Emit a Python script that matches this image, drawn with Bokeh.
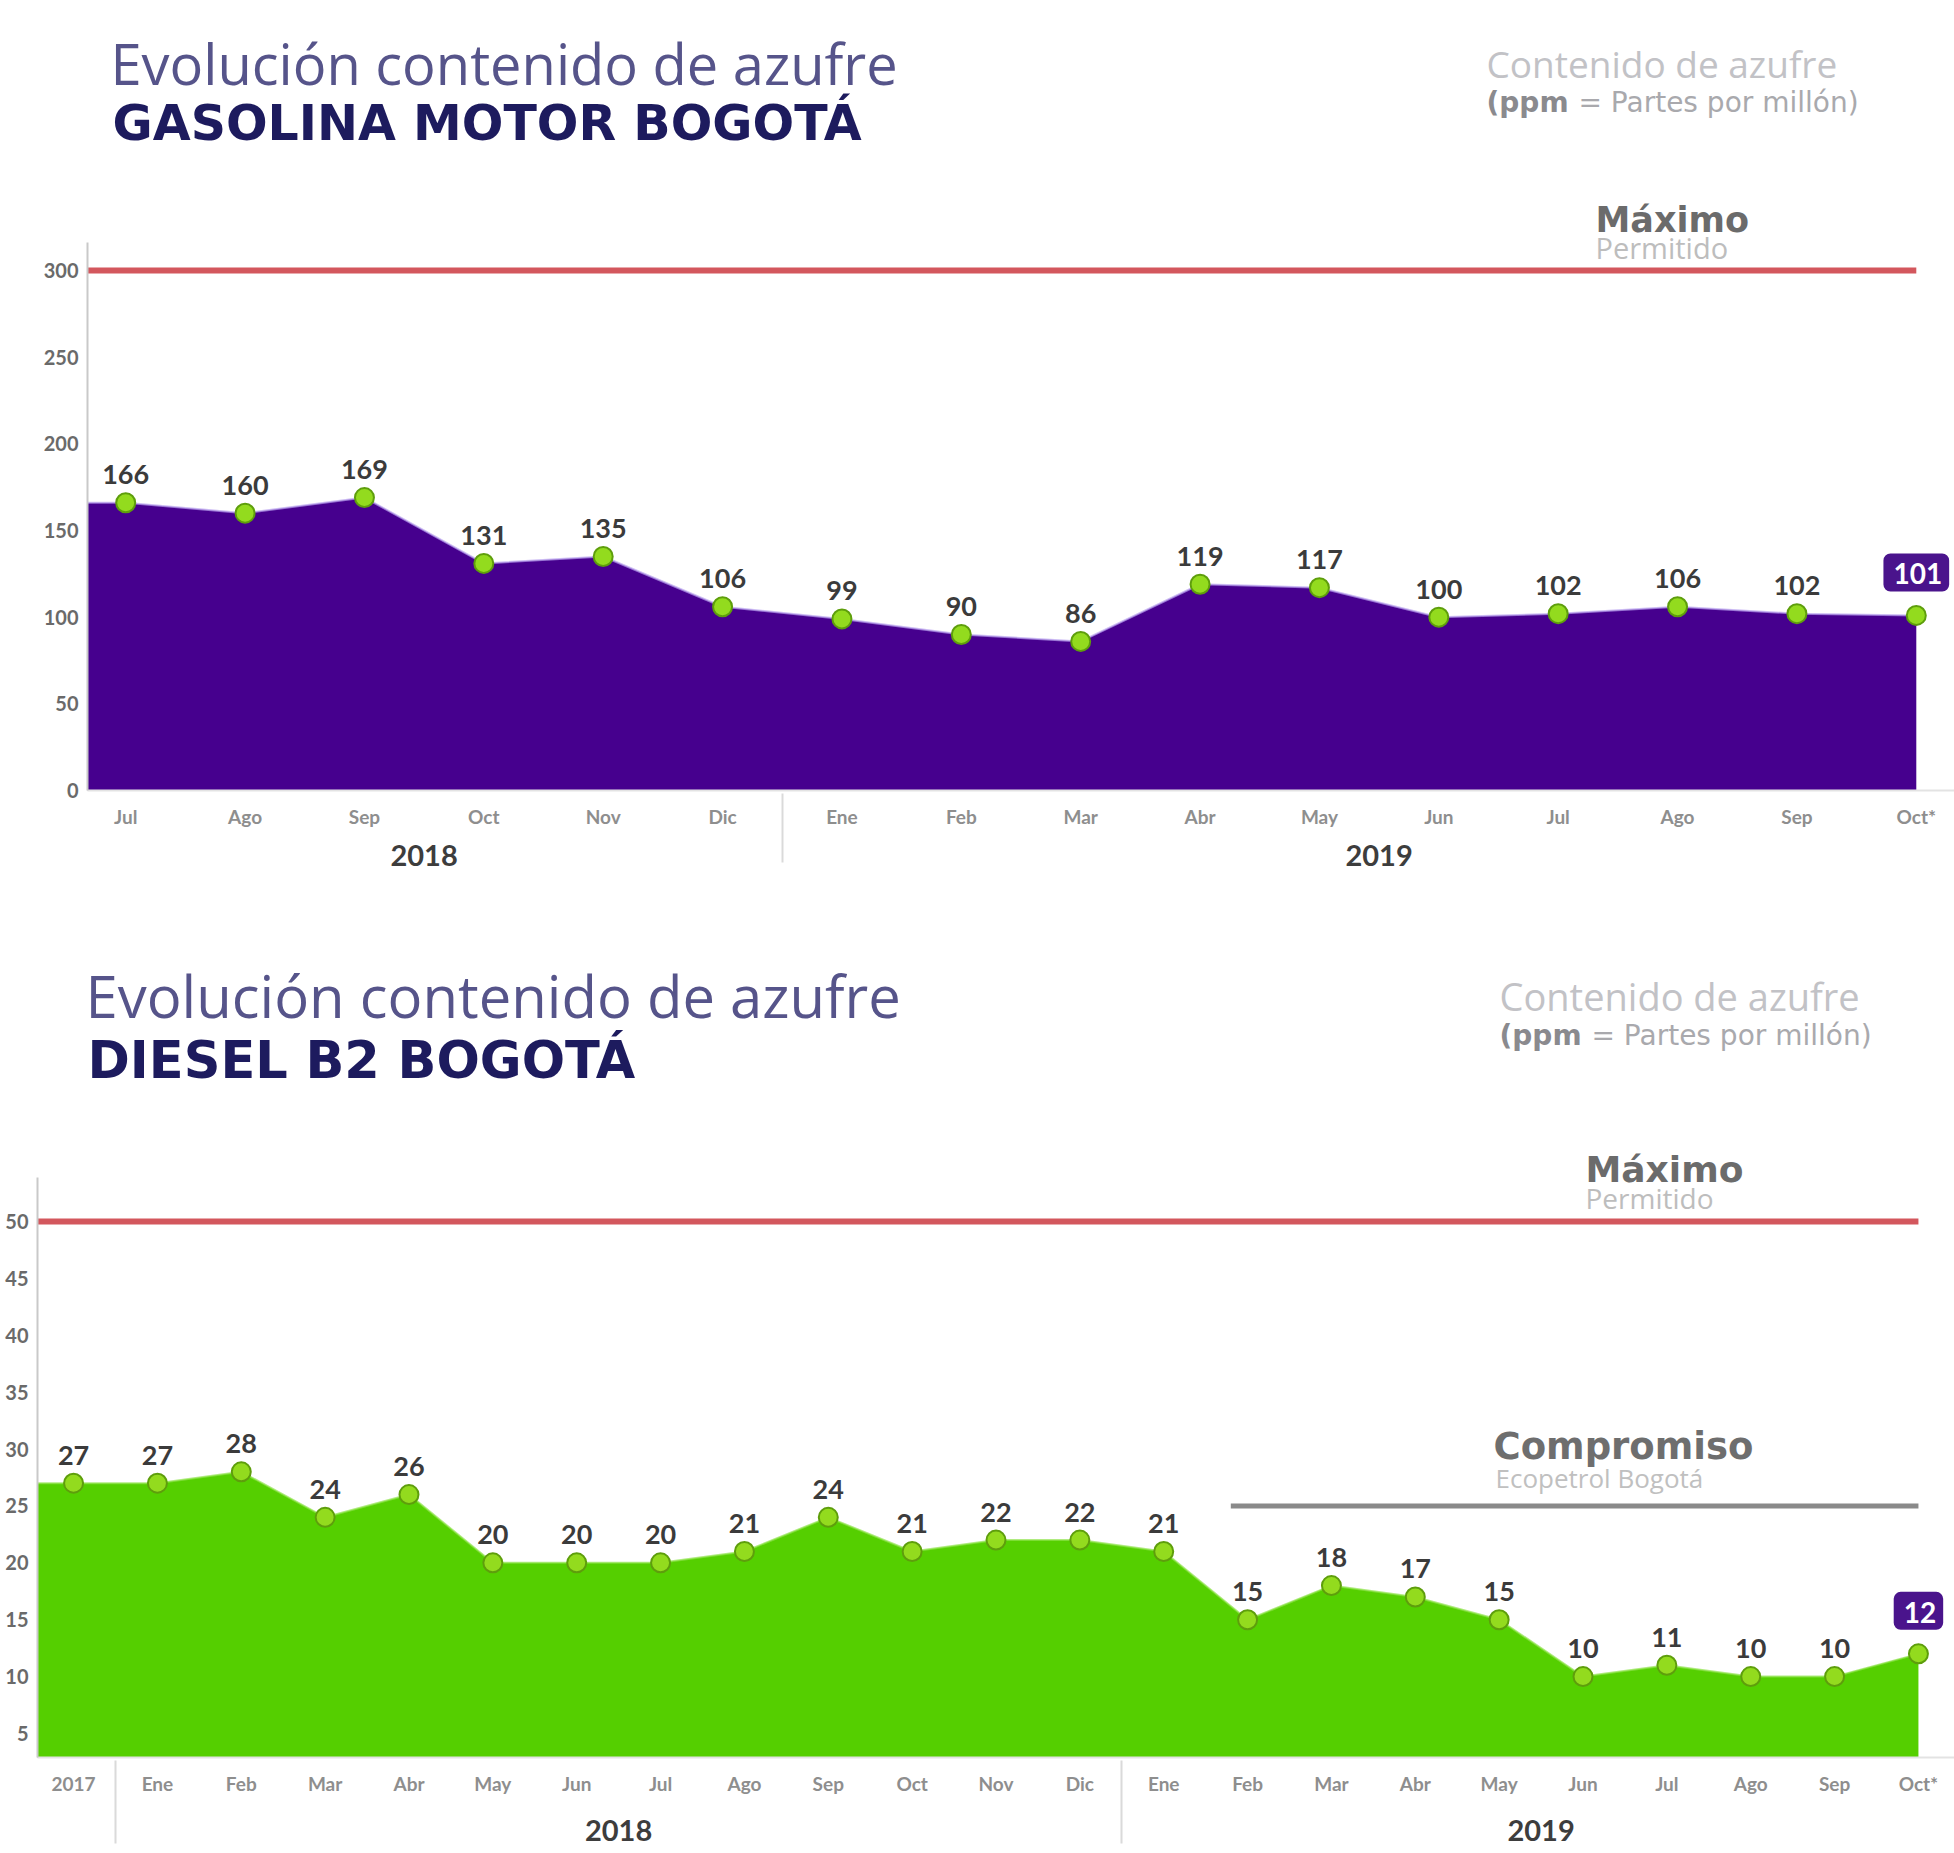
from bokeh.plotting import figure
from bokeh.models import FactorRange, Range1d, Label, FixedTicker
from bokeh.core.properties import value
from bokeh.embed import file_html
from bokeh.resources import INLINE

# ---------------- data ----------------
gas_years = ["2018"] * 6 + ["2019"] * 10
gas_months = ["Jul", "Ago", "Sep", "Oct", "Nov", "Dic",
              "Ene", "Feb", "Mar", "Abr", "May", "Jun", "Jul", "Ago", "Sep", "Oct*"]
gas_ppm = [166, 160, 169, 131, 135, 106, 99, 90, 86, 119, 117, 100, 102, 106, 102, 101]
gas_max = 300
gas_yticks = [0, 50, 100, 150, 200, 250, 300]

dsl_years = [" "] + ["2018"] * 12 + ["2019"] * 10
dsl_months = ["2017", "Ene", "Feb", "Mar", "Abr", "May", "Jun", "Jul", "Ago", "Sep", "Oct", "Nov", "Dic",
              "Ene", "Feb", "Mar", "Abr", "May", "Jun", "Jul", "Ago", "Sep", "Oct*"]
dsl_ppm = [27, 27, 28, 24, 26, 20, 20, 20, 21, 24, 21, 22, 22, 21, 15, 18, 17, 15, 10, 11, 10, 10, 12]
dsl_max = 50
dsl_commit = 25
dsl_commit_from = ("2019", "Feb")
dsl_yticks = [5, 10, 15, 20, 25, 30, 35, 40, 45, 50]

FONT = "Lato"
LIGHT = "Open Sans"
WIDE = "DejaVu Sans"
LIME = "#93DB1E"
LIME_EDGE = "#5E9E0C"
BOX = "#4A148C"
W = 1954


def add_text(p, frame_left, frame_bottom, px, baseline, text, size, color, font, bold=False):
    """px / baseline are page positions; converted to frame-relative screen units."""
    p.add_layout(Label(x=px - frame_left, y=frame_bottom - baseline + 0.35 * size,
                       x_units="screen", y_units="screen", text=text,
                       text_font=font, text_font_size=f"{size}px", text_color=color,
                       text_font_style="bold" if bold else "normal",
                       text_baseline="alphabetic", text_align="left"))


def make_chart(years, months, values, vmax, yticks, y_range, y_bounds, area_color, edge_color,
               pad, height, b_left, b_bottom, standoff_x):
    factors = list(zip(years, months))
    p = figure(width=W, height=height,
               x_range=FactorRange(*factors, range_padding=pad, range_padding_units="absolute",
                                   group_padding=0, subgroup_padding=0),
               y_range=Range1d(*y_range),
               output_backend="svg", toolbar_location=None,
               min_border_left=b_left, min_border_right=0,
               min_border_top=0, min_border_bottom=b_bottom)
    p.outline_line_color = None
    p.xgrid.visible = False
    p.ygrid.visible = False
    p.background_fill_color = "white"
    p.border_fill_color = "white"

    left = (years[0], months[0], -0.6)
    area_x = [left] + factors
    area_y = [values[0]] + list(values)
    p.varea(x=area_x, y1=0, y2=area_y, fill_color=area_color)
    p.line(x=area_x, y=area_y, line_color=edge_color, line_width=2, line_alpha=0.7)

    # maximum permitted
    p.line(x=[left, factors[-1]], y=[vmax, vmax], line_color="#D3575D", line_width=6)

    p.scatter(x=factors, y=values, size=19, fill_color=LIME, line_color=LIME_EDGE, line_width=2)

    p.text(x=factors[:-1], y=values[:-1], text=[str(v) for v in values[:-1]],
           text_font=value(FONT), text_font_size="27px", text_font_style="bold",
           text_color="#3b3b3b", text_align="center", text_baseline="alphabetic", y_offset=-28)
    p.text(x=[factors[-1]], y=[values[-1]], text=[str(values[-1])],
           text_font=value(FONT), text_font_size="28px", text_font_style="bold",
           text_color="white", text_align="center", text_baseline="middle", y_offset=-43,
           background_fill_color=BOX, border_radius=7, padding=(10, 7, 10, 7))

    yax = p.yaxis[0]
    yax.ticker = FixedTicker(ticks=yticks)
    yax.bounds = y_bounds
    yax.axis_line_color = "#c9c9c9"
    yax.axis_line_width = 2
    yax.major_tick_line_color = None
    yax.minor_tick_line_color = None
    yax.major_tick_out = 0
    yax.major_label_text_font = FONT
    yax.major_label_text_font_size = "20px"
    yax.major_label_text_font_style = "bold"
    yax.major_label_text_color = "#6a6a6a"
    yax.major_label_standoff = 9

    xax = p.xaxis[0]
    xax.axis_line_color = "#e3e3e3"
    xax.axis_line_width = 2
    xax.major_tick_line_color = None
    xax.major_tick_out = 0
    xax.major_label_text_font = FONT
    xax.major_label_text_font_size = "19px"
    xax.major_label_text_font_style = "bold"
    xax.major_label_text_color = "#8e8e8e"
    xax.major_label_standoff = standoff_x
    xax.group_text_font = FONT
    xax.group_text_font_size = "29px"
    xax.group_text_font_style = "bold"
    xax.group_text_color = "#3d3d3d"
    xax.separator_line_color = "#dadada"
    xax.separator_line_width = 2
    return p, factors


H1 = 900
H2 = 1853 - H1

# ---------- chart 1 : gasolina ----------
# frame: left x 87, bottom y 790 ; 1.7333 px per ppm
g_scale = (790 - 270) / gas_max
p1, f1 = make_chart(gas_years, gas_months, gas_ppm, gas_max, gas_yticks,
                    (0, 790 / g_scale), (0, (790 - 242) / g_scale),
                    "#46008E", "#B9A2F0", -0.18, H1, 87, H1 - 790, 14)
L1, B1 = 87, 790
add_text(p1, L1, B1, 110, 82, "Evolución contenido de azufre", 56, "#56548A", LIGHT)
add_text(p1, L1, B1, 112, 140, "GASOLINA MOTOR BOGOTÁ", 49, "#1D1B5E", WIDE, bold=True)
add_text(p1, L1, B1, 1486, 76, "Contenido de azufre", 37, "#C2C2C6", LIGHT)
add_text(p1, L1, B1, 1486, 112, "(ppm", 28, "#8A8A8E", WIDE, bold=True)
add_text(p1, L1, B1, 1578, 112, "= Partes por millón)", 28, "#A9A9AD", WIDE)
add_text(p1, L1, B1, 1595, 232, "Máximo", 35, "#6B6B6B", WIDE, bold=True)
add_text(p1, L1, B1, 1595, 257, "Permitido", 29, "#BDBDBD", LIGHT)

# ---------- chart 2 : diesel ----------
# frame: left x 37, bottom y 1757 ; 11.378 px per ppm
d_scale = (1733 - 1221) / (dsl_max - 5)
d_start = 5 - (1757 - 1733) / d_scale
p2, f2 = make_chart(dsl_years, dsl_months, dsl_ppm, dsl_max, dsl_yticks,
                    (d_start, dsl_max + (1221 - H1) / d_scale),
                    (d_start, dsl_max + (1221 - 1177) / d_scale),
                    "#55CF00", "#8FE34A", -0.07, H2, 37, 1853 - 1757, 14)
p2.line(x=[dsl_commit_from + (-0.2,), f2[-1]], y=[dsl_commit, dsl_commit],
        line_color="#8A8A8A", line_width=5)
L2, B2 = 37, 1757
add_text(p2, L2, B2, 85, 1015, "Evolución contenido de azufre", 58, "#56548A", LIGHT)
add_text(p2, L2, B2, 87, 1078, "DIESEL B2 BOGOTÁ", 51, "#1D1B5E", WIDE, bold=True)
add_text(p2, L2, B2, 1499, 1009, "Contenido de azufre", 38, "#C2C2C6", LIGHT)
add_text(p2, L2, B2, 1499, 1045, "(ppm", 28, "#8A8A8E", WIDE, bold=True)
add_text(p2, L2, B2, 1591, 1045, "= Partes por millón)", 28, "#A9A9AD", WIDE)
add_text(p2, L2, B2, 1585, 1182, "Máximo", 36, "#6B6B6B", WIDE, bold=True)
add_text(p2, L2, B2, 1585, 1207, "Permitido", 28, "#BDBDBD", LIGHT)
add_text(p2, L2, B2, 1493, 1459, "Compromiso", 37, "#6E6E6E", WIDE, bold=True)
add_text(p2, L2, B2, 1495, 1487, "Ecopetrol Bogotá", 26, "#C0C0C0", LIGHT)

open("out.html", "w").write(file_html([p1, p2], INLINE))
